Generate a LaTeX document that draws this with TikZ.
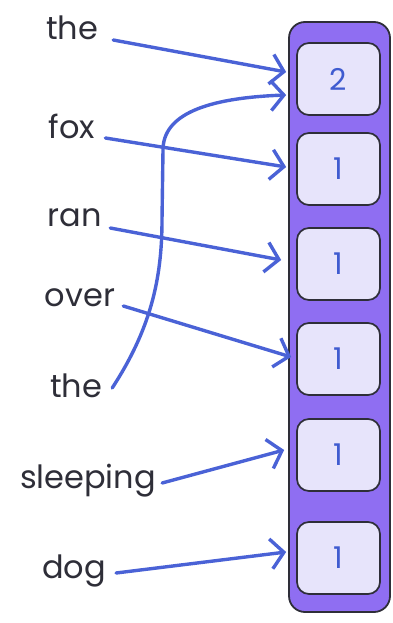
\documentclass[tikz,border=0pt]{standalone}
\usepackage{fontspec}
\setmainfont{Poppins}
\usetikzlibrary{arrows.meta}
\definecolor{colfill}{HTML}{8F6EF2}
\definecolor{cellfill}{HTML}{E7E4FB}
\definecolor{edge}{HTML}{2E2E38}
\definecolor{link}{HTML}{4A62D6}
\definecolor{digit}{HTML}{3F5BD0}
\begin{document}
\begin{tikzpicture}[x=1pt,y=-1pt,
  column/.style={draw=edge,line width=1.8pt,fill=colfill,rounded corners=16pt,
    minimum width=101pt,minimum height=590pt,inner sep=0pt},
  cell/.style={draw=edge,line width=1.7pt,fill=cellfill,rounded corners=12pt,
    minimum width=83pt,minimum height=72pt,inner sep=0pt,
    font=\fontsize{30}{32}\selectfont,text=digit},
  word/.style={font=\fontsize{32}{34}\selectfont,text=edge,inner sep=0pt},
  link/.style={draw=link,line width=3.4pt,line cap=round,
    -{Straight Barb[length=13pt,width=30pt]}}]
\useasboundingbox (0,0) rectangle (392,623);
% counting column
\node[column] (col) at (339.5,317) {};
\node[cell] (b1) at (338.5,79)  {2};
\node[cell] (b2) at (338.5,169) {1};
\node[cell] (b3) at (338.5,264) {1};
\node[cell] (b4) at (338.5,359) {1};
\node[cell] (b5) at (338.5,455) {1};
\node[cell] (b6) at (338.5,558) {1};
% words of the sentence
\node[word] (w1) at (72,28)  {the};
\node[word] (w2) at (72,126) {fox};
\node[word] (w3) at (75,218) {ran};
\node[word] (w4) at (80,298) {over};
\node[word] (w5) at (76,386) {the};
\node[word] (w6) at (88,481) {sleeping};
\node[word] (w7) at (74,571) {dog};
% arrows from words to their counters
\draw[link] ([shift={(15,12)}]w1.east) -- ([shift={(-10,-7)}]b1.west);
\draw[link] ([shift={(10,12)}]w2.east) -- ([shift={(-10,-2)}]b2.west);
\draw[link] ([shift={(8,10)}]w3.east) -- ([shift={(-15,-4)}]b3.west);
\draw[link] ([shift={(8,8)}]w4.east) -- ([shift={(-5,-2)}]b4.west);
\draw[link] ([shift={(10,2)}]w5.east) .. controls (150,330) and (162,280) .. (162,220)
  -- (163,150) .. controls (163,115) and (205,98) .. ([shift={(-10,16)}]b1.west);
\draw[link] ([shift={(6,2)}]w6.east) -- ([shift={(-12,-5)}]b5.west);
\draw[link] ([shift={(10,2)}]w7.east) -- ([shift={(-10,-6)}]b6.west);
\end{tikzpicture}
\end{document}
